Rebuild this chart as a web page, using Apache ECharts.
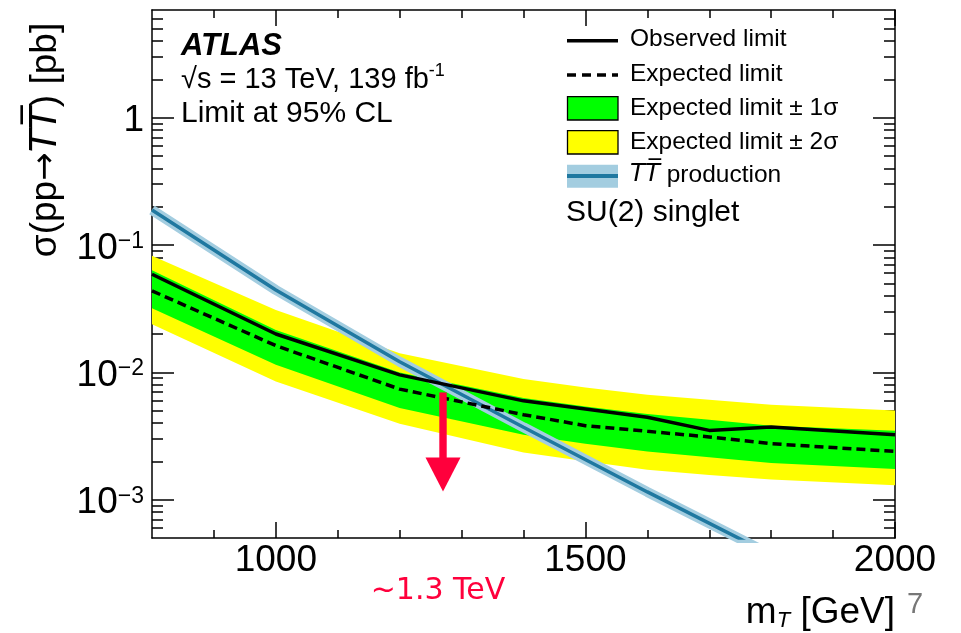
<!DOCTYPE html>
<html>
<head>
<meta charset="utf-8">
<script src="https://cdn.jsdelivr.net/npm/echarts@6/dist/echarts.min.js"></script>
<style>
html,body{margin:0;padding:0;background:#fff;}
#c{width:961px;height:633px;}
</style>
</head>
<body>
<div id="c"></div>
<script>
// ---------------- data ----------------
const massPoints = [800, 1000, 1200, 1400, 1500, 1600, 1700, 1800, 2000];
const observed   = [0.0589, 0.0200, 0.00955, 0.00597, 0.00515, 0.00444, 0.00350, 0.00372, 0.00324];
const expected   = [0.0436, 0.0162, 0.00738, 0.00465, 0.00381, 0.00344, 0.00311, 0.00275, 0.00239];
const plus1sigma = [0.0632, 0.0215, 0.00997, 0.00628, 0.00540, 0.00470, 0.00425, 0.00381, 0.00348];
const minus1sigma= [0.0319, 0.01146, 0.00524, 0.00324, 0.00275, 0.00239, 0.00215, 0.00194, 0.00174];
const plus2sigma = [0.0823, 0.0309, 0.0141, 0.00885, 0.00760, 0.00667, 0.00608, 0.00556, 0.00502];
const minus2sigma= [0.0239, 0.00847, 0.00395, 0.00235, 0.00200, 0.00172, 0.00156, 0.00144, 0.00130];
const theoryMass = [800, 1000, 1200, 1400, 1600, 1800, 2000];
const theoryXsec = [0.188, 0.0443, 0.0121, 0.0037, 0.00115, 0.00037, 0.00014];

const xMajorTicks = [1000, 1500, 2000];
const xMinorTicks = [900, 1000, 1100, 1200, 1300, 1400, 1500, 1600, 1700, 1800, 1900];
const xTickLabels = ['1000', '1500', '2000'];
const yMajorTicks = [0.001, 0.01, 0.1, 1];
const yTickLabels = ['{b|10}{s|\u22123}', '{b|10}{s|\u22122}', '{b|10}{s|\u22121}', '{b|1}'];

// exclusion annotation (arrow) in data units
const limitMass = 1270;
const arrowTopXsec = 0.00695;
const arrowTipXsec = 0.00116;

// ---------------- helpers ----------------
const FONT = "'Liberation Sans', Arial, Helvetica, sans-serif";
const yMinorTicks = [];
for (let k = -4; k <= 0; k++) {
  for (let m = 2; m <= 9; m++) {
    const v = +(m * Math.pow(10, k)).toPrecision(3);
    if (v > 0.0005 && v < 7) yMinorTicks.push(v);
  }
}
const AX = { color: '#000', width: 1.5 };

function xAx(pos, ticks, len, showLine, showLabel) {
  return {
    type: 'value', min: 800, max: 2000, position: pos,
    axisLine: { show: showLine, onZero: false, lineStyle: AX },
    axisTick: { show: true, inside: true, length: len, customValues: ticks, lineStyle: AX },
    axisLabel: showLabel ? {
      show: true, customValues: xMajorTicks, margin: 4, fontSize: 37, color: '#000', fontFamily: FONT,
      formatter: function (v) {
        const idx = xMajorTicks.indexOf(Math.round(v));
        return idx >= 0 ? xTickLabels[idx] : '';
      }
    } : { show: false },
    splitLine: { show: false }
  };
}
function yAx(pos, ticks, len, showLine, showLabel) {
  return {
    type: 'log', logBase: 10, min: 0.0005, max: 7, position: pos,
    axisLine: { show: showLine, onZero: false, lineStyle: AX },
    axisTick: { show: true, inside: true, length: len, customValues: ticks, lineStyle: AX },
    axisLabel: showLabel ? {
      show: true, customValues: yMajorTicks, margin: 8, color: '#000', fontFamily: FONT, fontSize: 37,
      padding: [7, 0, 0, 0],
      formatter: function (v) {
        const idx = yMajorTicks.findIndex(t => Math.abs(Math.log10(t) - Math.log10(v)) < 1e-6);
        return idx >= 0 ? yTickLabels[idx] : '';
      },
      rich: {
        b: { fontSize: 37, lineHeight: 37, fontFamily: FONT, color: '#000', verticalAlign: 'bottom' },
        s: { fontSize: 23, lineHeight: 15, fontFamily: FONT, color: '#000', verticalAlign: 'top' }
      }
    } : { show: false },
    splitLine: { show: false }
  };
}

function band(name, upper, lower, color, z) {
  return {
    type: 'custom', name: name, z: z, silent: true, clip: true,
    xAxisIndex: 0, yAxisIndex: 0,
    data: massPoints.map((m, i) => [m, lower[i], upper[i]]),
    encode: { x: 0, y: [1, 2] },
    renderItem: function (params, api) {
      if (params.dataIndex !== 0) return null;
      const pts = [];
      for (let i = 0; i < massPoints.length; i++) pts.push(api.coord([massPoints[i], upper[i]]));
      for (let i = massPoints.length - 1; i >= 0; i--) pts.push(api.coord([massPoints[i], lower[i]]));
      return { type: 'polygon', shape: { points: pts }, style: { fill: color, stroke: null } };
    }
  };
}
function lineSeries(name, xs, ys, style, z) {
  return {
    type: 'line', name: name, z: z, silent: true, clip: true,
    xAxisIndex: 0, yAxisIndex: 0,
    data: xs.map((m, i) => [m, ys[i]]),
    showSymbol: false, symbol: 'none',
    lineStyle: style
  };
}

const LIGHT = '#a3cde0';
const DARK = '#1f78a0';
const RED = '#ff003c';

const graphics = [
  // experiment labels
  { type: 'text', left: 181, top: 31, style: { text: 'ATLAS', font: "italic bold 31px 'Liberation Sans', Arial, sans-serif", fill: '#000' } },
  { type: 'text', left: 181, top: 62, style: {
      text: '{n|\u221As = 13 TeV, 139 fb}{p|-1}',
      rich: {
        n: { fontSize: 29, lineHeight: 32, fontFamily: FONT, fill: '#000', verticalAlign: 'bottom' },
        p: { fontSize: 18, lineHeight: 18, fontFamily: FONT, fill: '#000', verticalAlign: 'top' }
      } } },
  { type: 'text', left: 181, top: 99, style: { text: 'Limit at 95% CL', fontSize: 30, fontFamily: FONT, fill: '#000' } },

  // legend
  { type: 'line', shape: { x1: 567, y1: 40.7, x2: 618, y2: 40.7 }, style: { stroke: '#000', lineWidth: 3.5 } },
  { type: 'text', x: 630, y: 39.5, style: { text: 'Observed limit', fontSize: 24.5, fontFamily: FONT, fill: '#000', verticalAlign: 'middle' } },
  { type: 'line', shape: { x1: 567, y1: 75, x2: 618, y2: 75 }, style: { stroke: '#000', lineWidth: 3.5, lineDash: [9, 6] } },
  { type: 'text', x: 630, y: 74, style: { text: 'Expected limit', fontSize: 24.5, fontFamily: FONT, fill: '#000', verticalAlign: 'middle' } },
  { type: 'rect', shape: { x: 567.5, y: 96.7, width: 50.5, height: 23.3 }, style: { fill: '#00ff00', stroke: '#000', lineWidth: 1.3 } },
  { type: 'text', x: 630, y: 108, style: { text: 'Expected limit \u00B1 1\u03C3', fontSize: 24.5, fontFamily: FONT, fill: '#000', verticalAlign: 'middle' } },
  { type: 'rect', shape: { x: 567.5, y: 130.7, width: 50.5, height: 23.3 }, style: { fill: '#ffff00', stroke: '#000', lineWidth: 1.3 } },
  { type: 'text', x: 630, y: 142, style: { text: 'Expected limit \u00B1 2\u03C3', fontSize: 24.5, fontFamily: FONT, fill: '#000', verticalAlign: 'middle' } },
  { type: 'rect', shape: { x: 567, y: 164.7, width: 51, height: 23 }, style: { fill: LIGHT } },
  { type: 'line', shape: { x1: 567, y1: 176, x2: 618, y2: 176 }, style: { stroke: DARK, lineWidth: 4 } },
  { type: 'text', x: 630, y: 175, style: {
      text: '{i|T}{i|T\u0305}{n| production}', verticalAlign: 'middle',
      rich: {
        i: { fontSize: 24.5, fontFamily: "'DejaVu Sans', sans-serif", fontStyle: 'italic', fill: '#000' },
        n: { fontSize: 24.5, fontFamily: FONT, fill: '#000' }
      } } },
  { type: 'text', x: 566, y: 213, style: { text: 'SU(2) singlet', fontSize: 30, fontFamily: FONT, fill: '#000', verticalAlign: 'middle' } },

  // axis titles
  { type: 'text', x: 46, y: 140, rotation: Math.PI / 2, style: {
      text: '{n|\u03C3(pp}{a|\u2192}{i|T}{i|T\u0305}{n|) [pb]}', align: 'center', verticalAlign: 'middle',
      rich: {
        n: { fontSize: 37, fontFamily: FONT, fill: '#000' },
        a: { fontSize: 34, fontFamily: "'DejaVu Sans', sans-serif", fill: '#000' },
        i: { fontSize: 37, fontFamily: "'DejaVu Sans', sans-serif", fontStyle: 'italic', fill: '#000' }
      } } },
  { type: 'text', x: 895, y: 613, style: {
      text: '{n|m}{t|T}{n| [GeV]}', align: 'right', verticalAlign: 'middle',
      rich: {
        n: { fontSize: 37, lineHeight: 37, fontFamily: FONT, fill: '#000', verticalAlign: 'bottom' },
        t: { fontSize: 22, lineHeight: 20, fontFamily: FONT, fontStyle: 'italic', fill: '#000', verticalAlign: 'bottom' }
      } } },

  // annotation text and slide number
  { type: 'text', x: 438, y: 591, style: { text: '~1.3 TeV', fontSize: 30, fontFamily: "'DejaVu Sans', sans-serif", fill: RED, align: 'center', verticalAlign: 'middle' } },
  { type: 'text', x: 907, y: 605, style: { text: '7', fontSize: 29, fontFamily: FONT, fill: '#777', verticalAlign: 'middle' } }
];

const option = {
  animation: false,
  backgroundColor: '#fff',
  grid: { left: 152, right: 66, top: 10, bottom: 95, containLabel: false },
  xAxis: [
    xAx('bottom', xMajorTicks, 16, true, true),
    xAx('bottom', xMinorTicks, 8, false, false),
    xAx('top', xMajorTicks, 16, true, false),
    xAx('top', xMinorTicks, 8, false, false)
  ],
  yAxis: [
    yAx('left', yMajorTicks, 22, true, true),
    yAx('left', yMinorTicks, 11, false, false),
    yAx('right', yMajorTicks, 22, true, false),
    yAx('right', yMinorTicks, 11, false, false)
  ],
  series: [
    band('Expected limit \u00B1 2\u03C3', plus2sigma, minus2sigma, '#ffff00', 1),
    band('Expected limit \u00B1 1\u03C3', plus1sigma, minus1sigma, '#00ff00', 2),
    lineSeries('TT band', theoryMass, theoryXsec, { color: LIGHT, width: 10 }, 3),
    lineSeries('TT production', theoryMass, theoryXsec, { color: DARK, width: 3.5 }, 4),
    lineSeries('Expected limit', massPoints, expected, { color: '#000', width: 3.5, type: [9, 5] }, 5),
    lineSeries('Observed limit', massPoints, observed, { color: '#000', width: 3.5 }, 6)
  ],
  graphic: graphics
};

const chart = echarts.init(document.getElementById('c'));
chart.setOption(option);

// arrow placed through the axes' scales
const pTop = chart.convertToPixel({ xAxisIndex: 0, yAxisIndex: 0 }, [limitMass, arrowTopXsec]);
const pTip = chart.convertToPixel({ xAxisIndex: 0, yAxisIndex: 0 }, [limitMass, arrowTipXsec]);
const headLen = 34, headHalf = 17.5, shaftHalf = 3.7;
chart.setOption({
  graphic: graphics.concat([
    { type: 'rect', z: 100, shape: { x: pTop[0] - shaftHalf, y: pTop[1], width: 2 * shaftHalf, height: pTip[1] - headLen - pTop[1] + 1 }, style: { fill: RED } },
    { type: 'polygon', z: 100, shape: { points: [[pTip[0] - headHalf, pTip[1] - headLen], [pTip[0] + headHalf, pTip[1] - headLen], [pTip[0], pTip[1]]] }, style: { fill: RED } }
  ])
});
</script>
</body>
</html>
